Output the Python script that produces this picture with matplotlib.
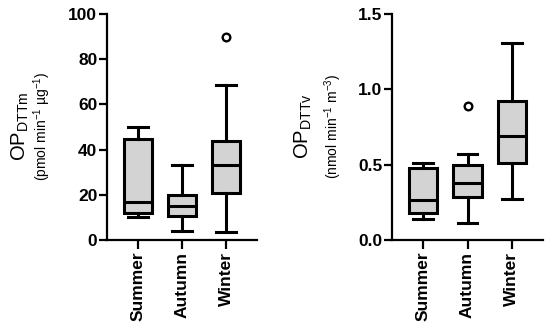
import matplotlib
matplotlib.use("Agg")
import matplotlib.pyplot as plt

plt.rcParams['font.family'] = ['Liberation Sans', 'DejaVu Sans']
plt.rcParams['mathtext.fontset'] = 'custom'
plt.rcParams['mathtext.rm'] = 'Liberation Sans'
plt.rcParams['mathtext.it'] = 'Liberation Sans:italic'
plt.rcParams['mathtext.bf'] = 'Liberation Sans:bold'

seasons = ["Summer", "Autumn", "Winter"]

# OP DTTm (pmol min-1 ug-1)
m_whislo = [10, 4, 3.5]
m_q1 = [12, 10.5, 21]
m_med = [17, 15, 33]
m_q3 = [44.5, 20, 44]
m_whishi = [50, 33, 68.5]
m_fliers = [[], [], [90]]

# OP DTTv (nmol min-1 m-3)
v_whislo = [0.14, 0.11, 0.27]
v_q1 = [0.18, 0.285, 0.51]
v_med = [0.265, 0.38, 0.69]
v_q3 = [0.475, 0.495, 0.925]
v_whishi = [0.51, 0.57, 1.305]
v_fliers = [[], [0.89], []]

W, H = 550, 328
fig = plt.figure(figsize=(W / 100, H / 100), dpi=100)

lw = 2.2
gray = '#d3d3d3'


def make_stats(lo, q1, med, q3, hi, fl):
    return [dict(whislo=a, q1=b, med=c, q3=d, whishi=e, fliers=f, label=s)
            for a, b, c, d, e, f, s in zip(lo, q1, med, q3, hi, fl, seasons)]


def draw(ax, stats, ylim, yticks, yticklabels):
    ax.bxp(stats, positions=[1, 2, 3], widths=0.64, capwidths=0.44,
           patch_artist=True, showfliers=True,
           boxprops=dict(facecolor=gray, edgecolor='black', linewidth=lw),
           medianprops=dict(color='black', linewidth=lw),
           whiskerprops=dict(color='black', linewidth=lw),
           capprops=dict(color='black', linewidth=lw),
           flierprops=dict(marker='o', markerfacecolor='white', markeredgecolor='black',
                           markersize=5.5, markeredgewidth=1.7))
    ax.set_xlim(0.3, 3.7)
    ax.set_ylim(*ylim)
    ax.set_yticks(yticks)
    ax.set_yticklabels(yticklabels, fontsize=12.5, fontweight='bold')
    ax.set_xticks([1, 2, 3])
    ax.set_xticklabels(seasons, rotation=90, fontsize=12.5, fontweight='bold')
    for s in ['top', 'right']:
        ax.spines[s].set_visible(False)
    for s in ['left', 'bottom']:
        ax.spines[s].set_linewidth(1.6)
    ax.tick_params(axis='y', direction='out', length=5.5, width=1.6, pad=1.5)
    ax.tick_params(axis='x', direction='out', length=6.5, width=1.6, pad=2)
    ax.patch.set_alpha(0)


ax1 = fig.add_axes([107 / W, 88 / H, 150 / W, 226 / H])
draw(ax1, make_stats(m_whislo, m_q1, m_med, m_q3, m_whishi, m_fliers),
     (0, 100), [0, 20, 40, 60, 80, 100], ['0', '20', '40', '60', '80', '100'])

ax2 = fig.add_axes([392 / W, 88 / H, 151 / W, 226 / H])
draw(ax2, make_stats(v_whislo, v_q1, v_med, v_q3, v_whishi, v_fliers),
     (0, 1.5), [0, 0.5, 1.0, 1.5], ['0.0', '0.5', '1.0', '1.5'])

yc = 1 - 126 / H
fig.text(20 / W, yc, r'OP$_{\mathrm{DTTm}}$', rotation=90, ha='center', va='center', fontsize=14.5)
fig.text(42 / W, yc, r'(pmol min$^{-1}$ µg$^{-1}$)', rotation=90, ha='center', va='center', fontsize=10)
fig.text(303 / W, yc, r'OP$_{\mathrm{DTTv}}$', rotation=90, ha='center', va='center', fontsize=14.5)
fig.text(333 / W, yc, r'(nmol min$^{-1}$ m$^{-3}$)', rotation=90, ha='center', va='center', fontsize=10)

fig.savefig('out.png', dpi=100)
